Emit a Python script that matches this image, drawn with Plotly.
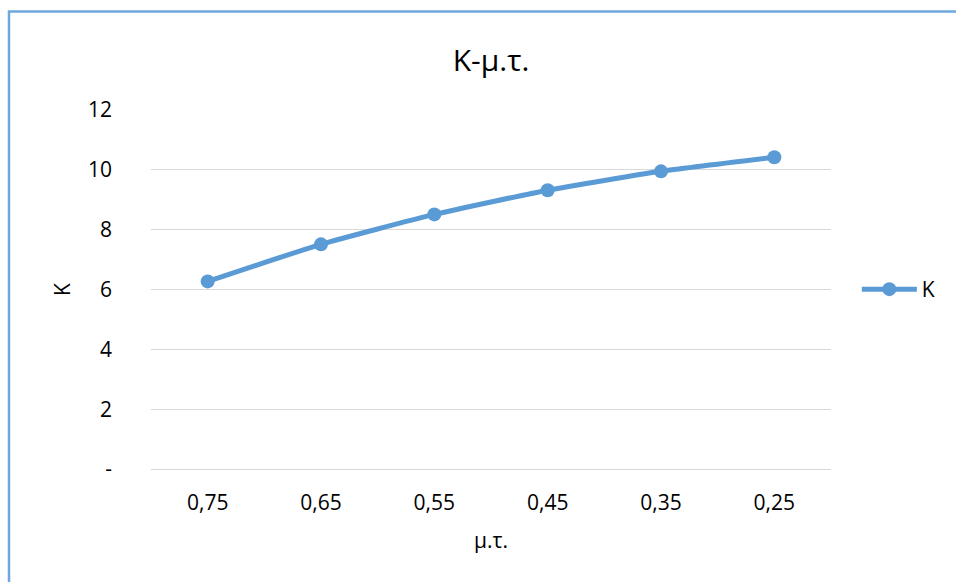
import plotly.graph_objects as go

# Data
categories = ["0,75", "0,65", "0,55", "0,45", "0,35", "0,25"]
k_values = [6.27, 7.51, 8.51, 9.32, 9.95, 10.42]
y_tick_vals = [0, 2, 4, 6, 8, 10, 12]
y_tick_text = ["-", "2", "4", "6", "8", "10", "12"]

LINE_BLUE = "#5B9BD5"
GRID = "#D9D9D9"
FONT = "Open Sans"

fig = go.Figure()
fig.add_trace(go.Scatter(
    x=categories,
    y=k_values,
    mode="lines+markers",
    name="K",
    line=dict(color=LINE_BLUE, width=5, shape="spline", smoothing=0.5),
    marker=dict(color=LINE_BLUE, size=14),
))

fig.update_layout(
    width=956,
    height=582,
    margin=dict(l=151, r=125, t=110, b=113),
    paper_bgcolor="white",
    plot_bgcolor="white",
    font=dict(family=FONT, color="#000000", size=21),
    title=dict(
        text="K-μ.τ.",
        font=dict(family=FONT, size=30, color="#000000"),
        x=(151 + 680 / 2) / 956,
        xanchor="center",
        y=1 - 60 / 582,
        yanchor="middle",
    ),
    showlegend=True,
    legend=dict(
        x=1.038,
        xanchor="left",
        y=0.5,
        yanchor="middle",
        font=dict(family=FONT, size=21),
        itemwidth=55,
        bgcolor="rgba(0,0,0,0)",
    ),
    xaxis=dict(
        type="category",
        range=[-0.5, 5.5],
        showgrid=False,
        showline=False,
        zeroline=False,
        ticks="",
        tickfont=dict(family=FONT, size=21),
        ticklabelstandoff=19,
        title=dict(text="μ.τ.", font=dict(family=FONT, size=21), standoff=18),
        fixedrange=True,
    ),
    yaxis=dict(
        range=[0, 12],
        tickvals=y_tick_vals,
        ticktext=y_tick_text,
        showgrid=True,
        gridcolor=GRID,
        gridwidth=1.3,
        zeroline=True,
        zerolinecolor=GRID,
        zerolinewidth=1.3,
        showline=False,
        ticks="",
        tickfont=dict(family=FONT, size=21),
        ticklabelstandoff=38,
        title=dict(text="K", font=dict(family=FONT, size=21), standoff=11),
        fixedrange=True,
    ),
)

# Chart-area border (left and top edges visible, the rest runs past the frame)
px_l, px_w, px_b, px_h = 151, 680, 469, 359
fig.add_shape(
    type="rect",
    xref="paper", yref="paper",
    x0=(9 - px_l) / px_w, x1=(1000 - px_l) / px_w,
    y0=(px_b - 620) / px_h, y1=(px_b - 11.5) / px_h,
    line=dict(color="#6FA8DC", width=2.5),
    fillcolor="rgba(0,0,0,0)",
    layer="below",
)

fig.write_html("out.html")
